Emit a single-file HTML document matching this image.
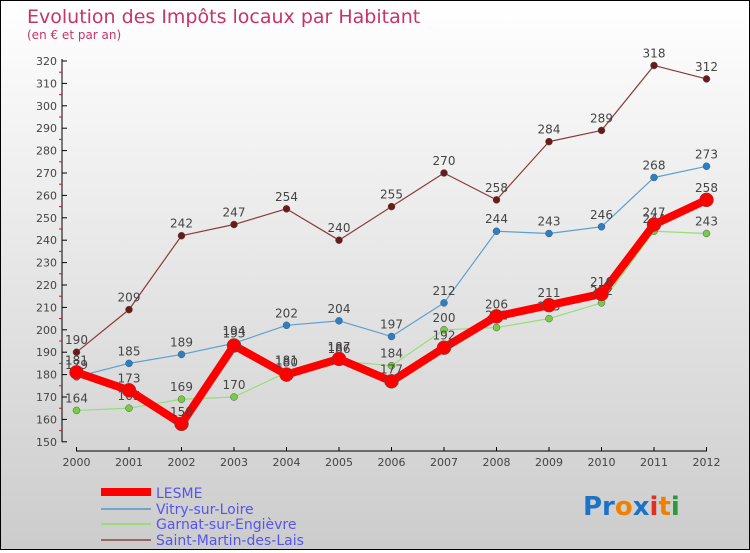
<!DOCTYPE html>
<html><head><meta charset="utf-8"><style>
body{margin:0}
#c{width:748px;height:548px;border:1px solid #000;background:linear-gradient(#fff,#ccc);position:relative;font-family:"DejaVu Sans","Liberation Sans",sans-serif}
</style></head><body>
<div id="c">
<svg id="s" width="748" height="548" xmlns="http://www.w3.org/2000/svg">
<text x="26" y="22" font-size="19" fill="#c8336a">Evolution des Impôts locaux par Habitant</text>
<text x="26" y="38" font-size="12" fill="#c8336a">(en € et par an)</text>
<g id="g"></g>
<g>
<rect x="100" y="487" width="50" height="8" fill="#f00"/>
<text x="155" y="497" font-size="14" fill="#5555ee">LESME</text>
<rect x="100" y="507" width="50" height="2" fill="#6fa6cc"/>
<text x="155" y="513" font-size="14" fill="#5555ee">Vitry-sur-Loire</text>
<rect x="100" y="522" width="50" height="2" fill="#99dd77"/>
<text x="155" y="528" font-size="14" fill="#5555ee">Garnat-sur-Engièvre</text>
<rect x="100" y="538" width="50" height="2" fill="#996666"/>
<text x="155" y="544" font-size="14" fill="#5555ee">Saint-Martin-des-Lais</text>
</g>
<g font-size="26" font-family="'DejaVu Sans',sans-serif" font-weight="bold">
<text x="582" y="514"><tspan fill="#1a73c8">Pr</tspan><tspan fill="#f08000">o</tspan><tspan fill="#1a73c8">x</tspan><tspan fill="#e03020">i</tspan><tspan fill="#f08000">t</tspan><tspan fill="#2a9a3a">i</tspan></text>
</g>
</svg></div>
<script>
const years=["2000","2001","2002","2003","2004","2005","2006","2007","2008","2009","2010","2011","2012"];
const yTicks=[150,160,170,180,190,200,210,220,230,240,250,260,270,280,290,300,310,320];
const lesme=[181,173,158,193,180,187,177,192,206,211,216,247,258];
const vitry=[179,185,189,194,202,204,197,212,244,243,246,268,273];
const garnat=[164,165,169,170,181,186,184,200,201,205,212,244,243];
const stmartin=[190,209,242,247,254,240,255,270,258,284,289,318,312];
const X=i=>75.5+i*52.5, Y=v=>60+(320-v)*2.24;
const g=document.getElementById('g'),NS="http://www.w3.org/2000/svg";
function mk(t,a,p){const e=document.createElementNS(NS,t);for(const k in a)e.setAttribute(k,a[k]);(p||g).appendChild(e);return e;}
let e=mk('line',{x1:61,y1:58,x2:61,y2:441,stroke:'#000'});

e=mk('line',{x1:75,y1:450,x2:706,y2:450,stroke:'#000'});

yTicks.forEach(v=>{mk('line',{x1:61,y1:Y(v),x2:66,y2:Y(v),stroke:'#000'});
 if(v<320)mk('line',{x1:58,y1:Y(v+5),x2:61,y2:Y(v+5),stroke:'#f00'});
 const t=mk('text',{x:56,y:Y(v)+4,'font-size':11,fill:'#444','text-anchor':'end'});t.textContent=v;
 });
years.forEach((y,i)=>{mk('line',{x1:X(i),y1:446,x2:X(i),y2:450,stroke:'#000'});
 const t=mk('text',{x:X(i),y:465,'font-size':11,fill:'#444','text-anchor':'middle'});t.textContent=y;
 });
function series(d,col,dot,w,r,name){
 const gg=mk('g',{});
 mk('polyline',{points:d.map((v,i)=>X(i)+','+Y(v)).join(' '),fill:'none',stroke:col,'stroke-width':w,'stroke-linejoin':'round'},gg);
 d.forEach((v,i)=>{const c=mk('circle',{cx:X(i),cy:Y(v),r:r,fill:dot,stroke:'#555','stroke-width':0.5},gg);
  
  const t=mk('text',{x:X(i),y:Y(v)-8,'font-size':12,fill:'#444','text-anchor':'middle'},gg);t.textContent=v;
  });
}
series(stmartin,'#8b3a3a','#6b1a1a',1.2,3.5,'saint-martin');
series(vitry,'#5fa0d0','#2a80c8',1.2,3.5,'vitry');
series(garnat,'#99dd77','#77cc44',1.2,3.5,'garnat');
series(lesme,'#f00','#f00',8,7,'lesme');
</script>
</body></html>
